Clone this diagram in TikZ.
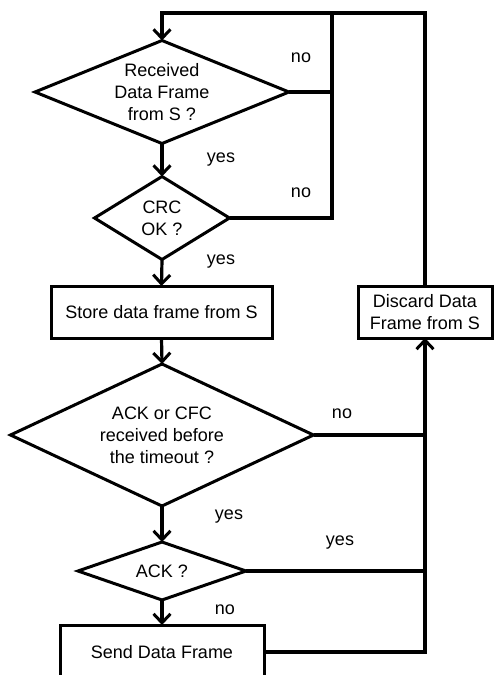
\documentclass[tikz,border=0pt]{standalone}
\usepackage{fontspec}
\setmainfont{Liberation Sans}
\usetikzlibrary{shapes.geometric,arrows.meta,calc}
\begin{document}
\begin{tikzpicture}[x=1pt,y=1pt,
  txt/.style={font=\fontsize{18}{22}\selectfont},
  dec/.style={txt,diamond,draw,line width=3pt,inner sep=0pt,outer sep=0pt,align=center},
  proc/.style={txt,rectangle,draw,line width=3pt,align=center,inner sep=0pt,outer sep=0pt},
  conn/.style={line width=3.2pt},
  flow/.style={line width=3.2pt,-{Straight Barb[length=9pt,width=17pt,line width=3pt]}},
  lbl/.style={txt,inner sep=0pt}]
\useasboundingbox (0,0) rectangle (494,-675);
\node[dec,aspect=2.466,minimum width=254pt,minimum height=103pt] (d1) at (162,-92) {Received\\Data Frame\\from S ?};
\node[dec,aspect=1.627,minimum width=135pt,minimum height=83pt] (d2) at (162,-218) {CRC\\OK ?};
\node[proc,minimum width=221pt,minimum height=52pt] (b1) at (161.5,-312) {Store data frame from S};
\node[proc,minimum width=134pt,minimum height=52pt] (b2) at (425,-312) {Discard Data\\Frame from S};
\node[dec,aspect=2.134,minimum width=303pt,minimum height=142pt] (d3) at (162,-435) {ACK or CFC\\received before\\the timeout ?};
\node[dec,aspect=2.897,minimum width=168pt,minimum height=58pt] (d4) at (162,-571) {ACK ?};
\node[proc,minimum width=204pt,minimum height=54pt] (b3) at (162,-652) {Send Data Frame};
\coordinate (tl) at (162,-13);
\coordinate (j1) at (332,-13);
\coordinate (rb) at (425,-652);
% top loop
\draw[flow] (b2.north) |- (tl) -- (d1.north);
\draw[conn] (d1.east) -| (j1);
\draw[conn] (d2.east) -| (j1);
% main flow
\draw[flow] (d1.south) -- (d2.north);
\draw[flow] (d2.south) -- (b1.north);
\draw[flow] (b1.south) -- (d3.north);
\draw[flow] (d3.south) -- (d4.north);
\draw[flow] (d4.south) -- (b3.north);
% right return
\draw[flow] (b3.east) -| (b2.south);
\draw[conn] (d3.east) -- (d3.east -| rb);
\draw[conn] (d4.east) -- (d4.east -| rb);
% labels
\node[lbl] (l1) at (301,-58) {no};
\node[lbl] (l2) at (221,-160) {yes};
\node[lbl] (l3) at (301,-193) {no};
\node[lbl] (l4) at (221,-262) {yes};
\node[lbl] (l5) at (342,-414) {no};
\node[lbl] (l6) at (229,-517) {yes};
\node[lbl] (l7) at (340,-543) {yes};
\node[lbl] (l8) at (225,-610) {no};
\end{tikzpicture}
\end{document}
